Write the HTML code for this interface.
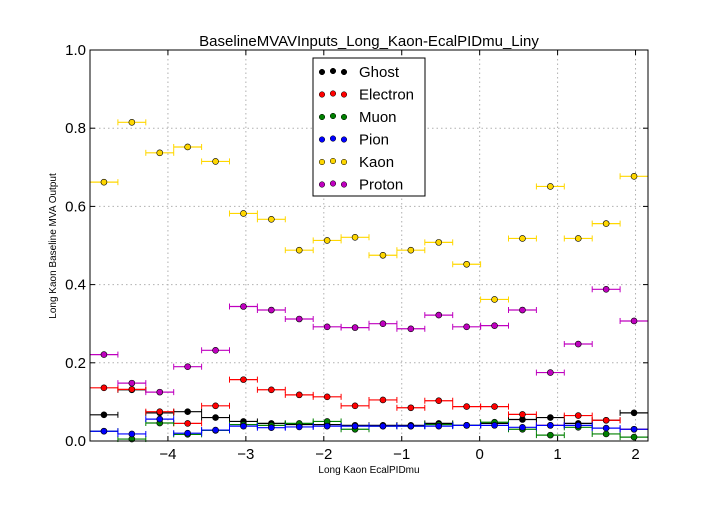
<!DOCTYPE html>
<html><head><meta charset="utf-8"><style>
body{margin:0;background:#fff}
svg text{font-family:"Liberation Sans","DejaVu Sans",sans-serif}
</style></head><body>
<svg id="c" width="720" height="504" xmlns="http://www.w3.org/2000/svg"></svg>
<script>
const seriesNames=["Ghost","Electron","Muon","Pion","Kaon","Proton"];
const seriesColors=["#000000","#ff0000","#008000","#0000ff","#ffd700","#bf00bf"];
const ghost=[0.067,0.131,0.072,0.075,0.060,0.050,0.045,0.042,0.042,0.040,0.040,0.040,0.045,0.040,0.045,0.055,0.060,0.045,0.053,0.072];
const electron=[0.136,0.132,0.075,0.045,0.090,0.157,0.131,0.118,0.113,0.090,0.105,0.085,0.103,0.088,0.088,0.068,0.040,0.065,0.053,0.030];
const muon=[0.025,0.005,0.046,0.017,0.027,0.042,0.040,0.045,0.050,0.030,0.038,0.038,0.042,0.040,0.048,0.030,0.015,0.035,0.018,0.010];
const pion=[0.025,0.018,0.056,0.020,0.028,0.038,0.034,0.036,0.038,0.038,0.038,0.038,0.038,0.040,0.040,0.035,0.040,0.040,0.033,0.030];
const kaon=[0.662,0.815,0.737,0.752,0.715,0.582,0.567,0.488,0.513,0.521,0.475,0.488,0.508,0.452,0.362,0.518,0.651,0.518,0.556,0.677];
const proton=[0.221,0.148,0.125,0.190,0.232,0.344,0.335,0.312,0.292,0.290,0.300,0.287,0.322,0.292,0.295,0.335,0.175,0.248,0.388,0.307];
const xTicks=[-4,-3,-2,-1,0,1,2];
const yTicks=[0.0,0.2,0.4,0.6,0.8,1.0];
const xMin=-5,xMax=2.16,nBins=20,binW=0.358;
const L=90,R=648,T=50,B=441;
const sx=v=>L+(v-xMin)/(xMax-xMin)*(R-L);
const sy=v=>B-(v-0)/(1-0)*(B-T);
const svg=document.getElementById('c');const NS="http://www.w3.org/2000/svg";
function mk(t,a,p){const e=document.createElementNS(NS,t);for(const k in a)e.setAttribute(k,a[k]);(p||svg).appendChild(e);return e;}
let e=mk('rect',{x:L,y:T,width:R-L,height:B-T,fill:'#fff',stroke:'none'});

const grid=mk('g',{});
xTicks.forEach(t=>{const x=sx(t);mk('line',{x1:x,x2:x,y1:T,y2:B,stroke:'#b0b0b0','stroke-dasharray':'1.5,3'},grid);
 mk('line',{x1:x,x2:x,y1:B,y2:B-5,stroke:'#000'},grid);mk('line',{x1:x,x2:x,y1:T,y2:T+5,stroke:'#000'},grid);
 e=mk('text',{x:x,y:B+18,'text-anchor':'middle','font-size':15});e.textContent=(t<0?'\u2212'+(-t):t);
 });
yTicks.forEach(t=>{const y=sy(t);mk('line',{x1:L,x2:R,y1:y,y2:y,stroke:'#b0b0b0','stroke-dasharray':'1.5,3'},grid);
 mk('line',{x1:L,x2:L+5,y1:y,y2:y,stroke:'#000'},grid);mk('line',{x1:R,x2:R-5,y1:y,y2:y,stroke:'#000'},grid);
 e=mk('text',{x:L-4,y:y+5,'text-anchor':'end','font-size':15});e.textContent=t.toFixed(1);
 });
const data=[ghost,electron,muon,pion,kaon,proton];
data.forEach((arr,si)=>{const g=mk('g',{});
 arr.forEach((v,i)=>{const c=xMin+(i+0.5)*binW;const x0=sx(c-binW/2),x1=sx(c+binW/2),y=sy(v);
  mk('line',{x1:x0,x2:x1,y1:y,y2:y,stroke:seriesColors[si],'stroke-width':1.2},g);
  mk('line',{x1:x0,x2:x0,y1:y-3,y2:y+3,stroke:seriesColors[si]},g);mk('line',{x1:x1,x2:x1,y1:y-3,y2:y+3,stroke:seriesColors[si]},g);
  const p=mk('circle',{cx:sx(c),cy:y,r:3,fill:seriesColors[si],stroke:'#000','stroke-width':0.6},g);
  });});
e=mk('rect',{x:L,y:T,width:R-L,height:B-T,fill:'none',stroke:'#000'});

e=mk('text',{x:369,y:46,'text-anchor':'middle','font-size':15});e.textContent='BaselineMVAVInputs_Long_Kaon-EcalPIDmu_Liny';

e=mk('text',{x:369,y:473,'text-anchor':'middle','font-size':10});e.textContent='Long Kaon EcalPIDmu';

e=mk('text',{x:56,y:246,'text-anchor':'middle','font-size':10,transform:'rotate(-90 56 246)'});e.textContent='Long Kaon Baseline MVA Output';

const lg=mk('g',{});
mk('rect',{x:313,y:58,width:112,height:138,fill:'#fff',stroke:'#000'},lg);
seriesNames.forEach((n,i)=>{const y=72+i*22.5;const it=mk('g',{},lg);
 
 [322,333,344].forEach((x,j)=>mk('circle',{cx:x,cy:y+(j==1?-1:0),r:2.8,fill:seriesColors[i],stroke:'#000','stroke-width':0.5},it));
 const t=mk('text',{x:359,y:y+5,'font-size':15},it);t.textContent=n;});
</script>
</body></html>
